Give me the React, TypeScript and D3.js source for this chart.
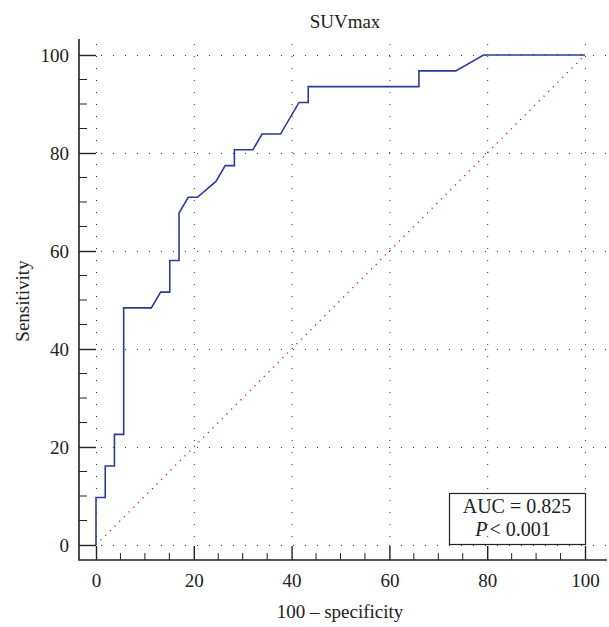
import React, { useRef, useEffect } from "react";
import * as d3 from "d3";

// ROC curve points (100 - specificity, sensitivity)
const fprValues = [
  0, 0, 1.89, 1.89, 3.77, 3.77, 5.66, 5.66, 11.32, 13.21, 15.09, 15.09, 16.98,
  16.98, 18.87, 20.75, 24.53, 26.42, 28.3, 28.3, 32.08, 33.96, 37.74, 41.51,
  43.4, 43.4, 66.04, 66.04, 73.58, 79.25, 100,
];
const sensValues = [
  0, 9.68, 9.68, 16.13, 16.13, 22.58, 22.58, 48.39, 48.39, 51.61, 51.61, 58.06,
  58.06, 67.74, 70.97, 70.97, 74.19, 77.42, 77.42, 80.65, 80.65, 83.87, 83.87,
  90.32, 90.32, 93.55, 93.55, 96.77, 96.77, 100, 100,
];
const majorTicks = [0, 20, 40, 60, 80, 100];
const minorTicks = d3.range(0, 101, 5).filter((v) => v % 20 !== 0);

const titleText = "SUVmax";
const xLabel = "100 – specificity";
const yLabel = "Sensitivity";
const aucText = "AUC = 0.825";
const pText = "< 0.001";

const WIDTH = 609;
const HEIGHT = 627;
const FONT = "'Liberation Serif', 'DejaVu Serif', serif";

const RocChart = () => {
  const svgRef = useRef<SVGSVGElement>(null);

  useEffect(() => {
    document.body.style.margin = "0";
    const svg = d3.select(svgRef.current);
    svg.selectAll("*").remove();

    const x = d3.scaleLinear().domain([0, 100]).range([96, 585]);
    const y = d3.scaleLinear().domain([0, 100]).range([545, 55]);

    const frameLeft = 79;
    const frameBottom = 560;
    const frameTop = 39;
    const frameRight = 607;

    // dotted grid
    const grid = svg.append("g").attr("stroke", "#333").attr("stroke-width", 1);
    grid
      .selectAll("line.h")
      .data(majorTicks)
      .join("line")
      .attr("x1", x(0))
      .attr("x2", frameRight)
      .attr("y1", (d) => y(d) + 0.5)
      .attr("y2", (d) => y(d) + 0.5)
      .attr("stroke-dasharray", "1,11")
      .attr("stroke-dashoffset", -5);
    grid
      .selectAll("line.v")
      .data(majorTicks)
      .join("line")
      .attr("x1", (d) => x(d) + 0.5)
      .attr("x2", (d) => x(d) + 0.5)
      .attr("y1", frameTop)
      .attr("y2", y(0))
      .attr("stroke-dasharray", "1,11")
      .attr("stroke-dashoffset", -5);

    // reference diagonal
    svg
      .append("line")
      .attr("x1", x(0))
      .attr("y1", y(0))
      .attr("x2", x(100))
      .attr("y2", y(100))
      .attr("stroke", "#d0103a")
      .attr("stroke-width", 1.3)
      .attr("stroke-dasharray", "1.2,5.4");

    // ROC curve
    const points = fprValues.map((v, i) => [v, sensValues[i]] as [number, number]);
    const line = d3
      .line<[number, number]>()
      .x((d) => x(d[0]))
      .y((d) => y(d[1]));
    svg
      .append("path")
      .attr("d", line(points))
      .attr("fill", "none")
      .attr("stroke", "#2e3b96")
      .attr("stroke-width", 1.6);

    // axes
    const yAxis = svg
      .append("g")
      .attr("transform", `translate(${frameLeft},0)`)
      .call(
        d3
          .axisLeft(y)
          .tickValues(majorTicks)
          .tickSizeInner(-17)
          .tickSizeOuter(0)
          .tickPadding(10)
      );
    yAxis.select(".domain").remove();
    yAxis
      .selectAll(".minor")
      .data(minorTicks)
      .join("line")
      .attr("class", "minor")
      .attr("x1", 0)
      .attr("x2", 8)
      .attr("y1", (d) => y(d))
      .attr("y2", (d) => y(d))
      .attr("stroke", "#222");

    const xAxis = svg
      .append("g")
      .attr("transform", `translate(0,${frameBottom})`)
      .call(
        d3
          .axisBottom(x)
          .tickValues(majorTicks)
          .tickSizeInner(-14)
          .tickSizeOuter(0)
          .tickPadding(14)
      );
    xAxis.select(".domain").remove();
    xAxis
      .selectAll(".minor")
      .data(minorTicks)
      .join("line")
      .attr("class", "minor")
      .attr("x1", (d) => x(d))
      .attr("x2", (d) => x(d))
      .attr("y1", 0)
      .attr("y2", -7)
      .attr("stroke", "#222");

    [yAxis, xAxis].forEach((ax) => {
      ax.selectAll(".tick line").attr("stroke", "#222").attr("stroke-width", 1.4);
      ax.selectAll(".tick text")
        .attr("font-family", FONT)
        .attr("font-size", 19)
        .attr("fill", "#222");
    });

    // frame lines (left + bottom)
    svg
      .append("path")
      .attr("d", `M${frameLeft},${frameTop}V${frameBottom}H${frameRight}`)
      .attr("fill", "none")
      .attr("stroke", "#222")
      .attr("stroke-width", 1.6);

    // legend box
    svg
      .append("rect")
      .attr("x", 449.5)
      .attr("y", 493.5)
      .attr("width", 136)
      .attr("height", 51)
      .attr("fill", "none")
      .attr("stroke", "#222")
      .attr("stroke-width", 1.2);
    svg
      .append("text")
      .attr("x", 517)
      .attr("y", 513)
      .attr("text-anchor", "middle")
      .attr("font-family", FONT)
      .attr("font-size", 20)
      .attr("fill", "#222")
      .text(aucText);
    const pLine = svg
      .append("text")
      .attr("x", 513)
      .attr("y", 536)
      .attr("text-anchor", "middle")
      .attr("font-family", FONT)
      .attr("font-size", 20)
      .attr("fill", "#222");
    pLine.append("tspan").attr("font-style", "italic").text("P");
    pLine.append("tspan").attr("dx", 2).text(pText);

    // titles
    svg
      .append("text")
      .attr("x", 345)
      .attr("y", 28)
      .attr("text-anchor", "middle")
      .attr("font-family", FONT)
      .attr("font-size", 19)
      .attr("fill", "#222")
      .text(titleText);

    svg
      .append("text")
      .attr("x", 340)
      .attr("y", 618)
      .attr("text-anchor", "middle")
      .attr("font-family", FONT)
      .attr("font-size", 19)
      .attr("fill", "#222")
      .text(xLabel);

    svg
      .append("text")
      .attr("text-anchor", "middle")
      .attr("transform", `translate(29, 301) rotate(-90)`)
      .attr("font-family", FONT)
      .attr("font-size", 19)
      .attr("fill", "#222")
      .text(yLabel);
  }, []);

  return (
    <svg
      ref={svgRef}
      width={WIDTH}
      height={HEIGHT}
      style={{ display: "block", background: "#fff" }}
    />
  );
};

export default function App() {
  return <RocChart />;
}
